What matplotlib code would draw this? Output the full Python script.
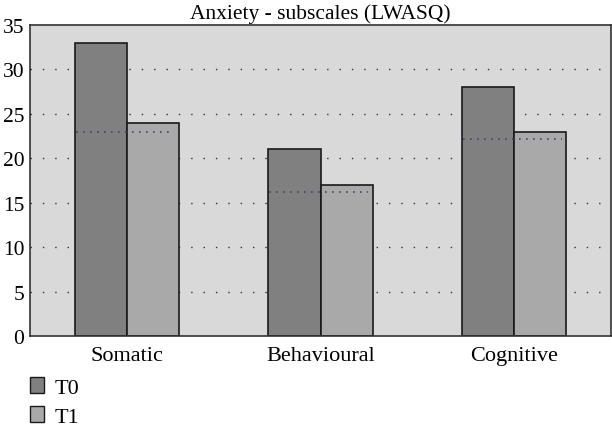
import numpy as np
import matplotlib.pyplot as plt
from matplotlib.patches import Patch

plt.rcParams['font.family'] = ['Liberation Serif', 'DejaVu Serif']

categories = ['Somatic', 'Behavioural', 'Cognitive']
t0 = [33, 21, 28]
t1 = [24, 17, 23]
reference = [23.0, 16.2, 22.2]
series_names = ['T0', 'T1']

dark = '#808080'
light = '#a9a9a9'

fig = plt.figure(figsize=(6.12, 4.27), dpi=100)
ax = fig.add_axes([30/612, 1 - 337/427, 581/612, 311/427])
ax.set_facecolor('#d9d9d9')

x = np.arange(len(categories)) + 0.5
w = 0.27
ax.bar(x - w/2, t0, w, color=dark, edgecolor='#1a1a1a', linewidth=1.2, zorder=2)
ax.bar(x + w/2, t1, w, color=light, edgecolor='#1a1a1a', linewidth=1.2, zorder=2)
for xi, r in zip(x, reference):
    ax.hlines(r, xi - w + 0.005, xi + w - 0.025, colors='#41466e',
              linestyles=(0, (1, 3.2)), linewidth=1.2, zorder=3)

ax.set_xlim(0, 3)
ax.set_ylim(0, 35)
yticks = np.arange(0, 36, 5)
ax.set_yticks(yticks)
ax.set_xticks(x)
ax.set_xticklabels(categories, fontsize=16)
ax.tick_params(axis='x', length=0, pad=7)
ax.tick_params(axis='y', length=0, labelsize=15.5, pad=4)
for yv in yticks[1:-1]:
    ax.axhline(yv, linestyle=(0, (1, 7.9)), color='#333333', linewidth=1, zorder=1)
for s in ax.spines.values():
    s.set_color('#333333')
    s.set_linewidth(1.2)

ax.set_title('Anxiety - subscales (LWASQ)', fontsize=15.5, pad=5)

handles = [Patch(facecolor=dark, edgecolor='#1a1a1a'),
           Patch(facecolor=light, edgecolor='#1a1a1a')]
fig.legend(handles, series_names, loc='upper left', bbox_to_anchor=(30/612, 1 - 378/427),
           frameon=False, fontsize=16, handlelength=0.65, handleheight=0.7,
           handletextpad=0.45, labelspacing=0.4, borderpad=0, borderaxespad=0)

fig.savefig('out.png', dpi=100)
